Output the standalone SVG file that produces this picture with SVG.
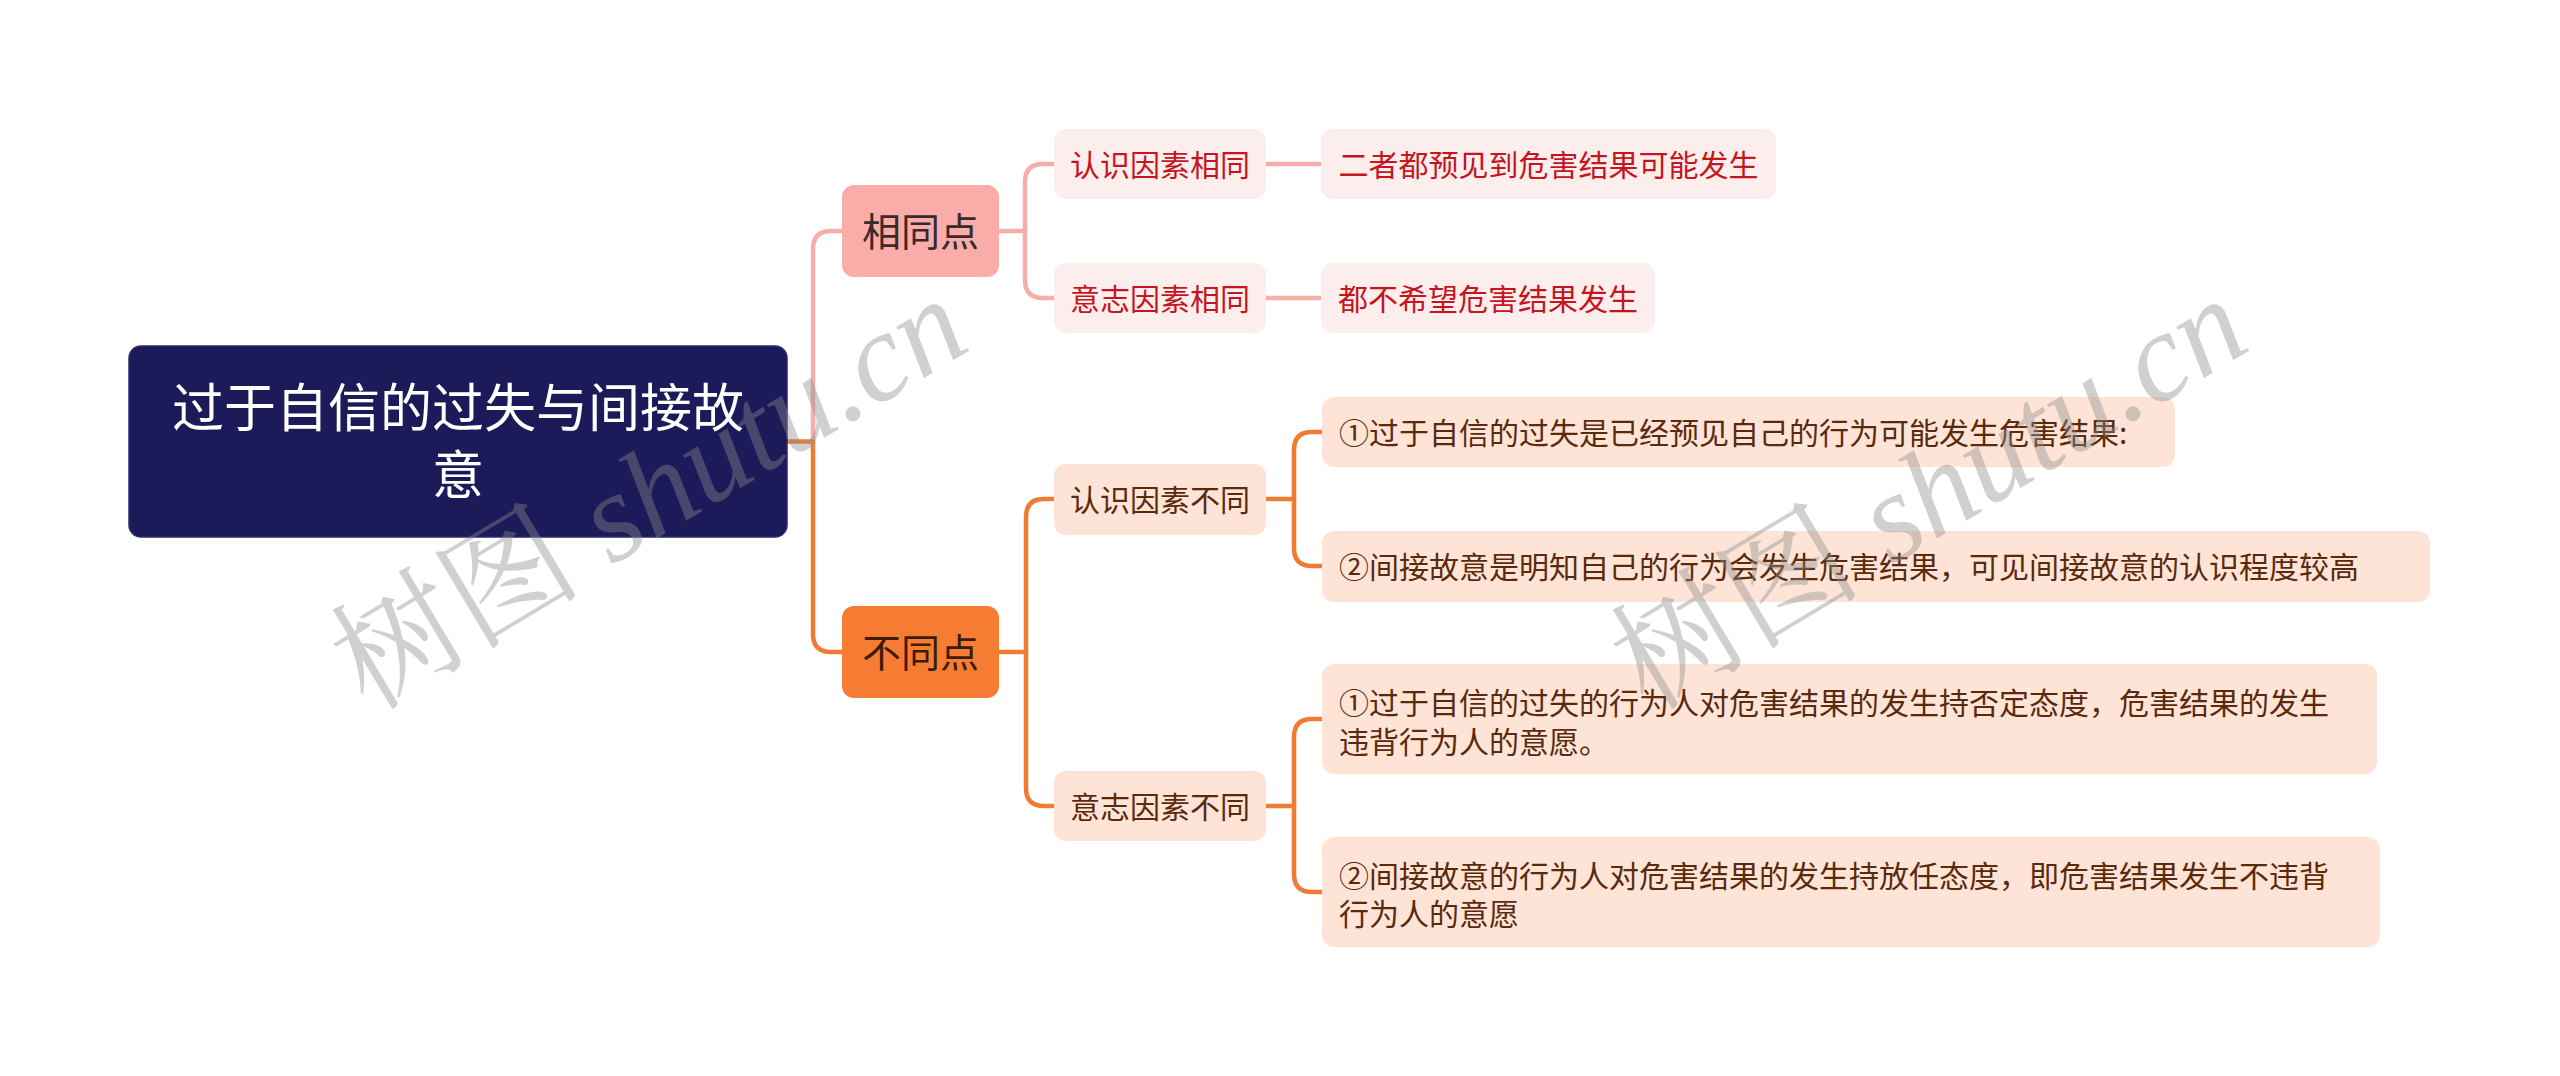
<svg xmlns="http://www.w3.org/2000/svg" width="2560" height="1076" viewBox="0 0 2560 1076">
<style>
text{font-family:"Noto Sans CJK SC","Noto Sans",sans-serif;}
.c{fill:none;stroke-width:4.5;stroke-linecap:round;stroke-linejoin:round;}
.cp{stroke:#f6aeaa;}
.co{stroke:#f07c34;}
.root{fill:#1c1a58;stroke:#2a2a70;stroke-width:1.5;}
.rt{fill:#ffffff;font-size:52px;text-anchor:middle;}
.l1p{fill:#f9aca8;}
.l1o{fill:#f77c33;}
.l1t{font-size:39px;text-anchor:middle;}
.np{fill:#fdeeee;}
.no{fill:#fde4d7;}
.tp{fill:#c4161c;font-size:30px;}
.to{fill:#5b2a0c;font-size:30px;}
.mid{text-anchor:middle;}
.wm{font-family:"Liberation Serif","Noto Serif CJK SC","Noto Sans CJK SC",serif;font-size:126px;fill:#8c8c8c;opacity:0.4;}
.it{font-style:italic;}
</style>
<g id="connectors">
<path class="c co" d="M787,441.5 H813"/>
<path class="c cp" d="M813,441.5 V249 Q813,231 831,231 H843"/>
<path class="c co" d="M813,441.5 V634 Q813,652 831,652 H843"/>
<path class="c cp" d="M999,231 H1025"/>
<path class="c cp" d="M1025,231 V182 Q1025,164 1043,164 H1054"/>
<path class="c cp" d="M1025,231 V280 Q1025,298 1043,298 H1054"/>
<path class="c cp" d="M1266,164 H1321"/>
<path class="c cp" d="M1266,298 H1321"/>
<path class="c co" d="M999,652 H1026"/>
<path class="c co" d="M1026,652 V517 Q1026,499 1044,499 H1054"/>
<path class="c co" d="M1026,652 V788 Q1026,806 1044,806 H1054"/>
<path class="c co" d="M1265,499 H1294"/>
<path class="c co" d="M1294,499 V450 Q1294,432 1312,432 H1322"/>
<path class="c co" d="M1294,499 V548 Q1294,566 1312,566 H1322"/>
<path class="c co" d="M1265,806 H1294"/>
<path class="c co" d="M1294,806 V737 Q1294,719 1312,719 H1322"/>
<path class="c co" d="M1294,806 V874 Q1294,892 1312,892 H1322"/>
</g>
<g id="root">
<rect class="root" x="129" y="346" width="658" height="191" rx="12"/>
<text class="rt" x="458" y="427">过于自信的过失与间接故</text>
<text class="rt" x="458" y="494">意</text>
</g>
<g id="n-same">
<rect class="l1p" x="842" y="185" width="157" height="92" rx="12"/>
<text class="l1t" x="920.5" y="246" fill="#3a2a2a">相同点</text>
</g>
<g id="n-diff">
<rect class="l1o" x="842" y="606" width="157" height="92" rx="12"/>
<text class="l1t" x="920.5" y="667" fill="#3d1c0a">不同点</text>
</g>
<g id="n-same-cog">
<rect class="np" x="1054" y="129" width="212" height="70" rx="12"/>
<text class="tp mid" x="1160" y="175.5">认识因素相同</text>
</g>
<g id="n-same-will">
<rect class="np" x="1054" y="263" width="212" height="70" rx="12"/>
<text class="tp mid" x="1160" y="309.5">意志因素相同</text>
</g>
<g id="n-same-cog-1">
<rect class="np" x="1321" y="129" width="455" height="70" rx="12"/>
<text class="tp mid" x="1548.5" y="175.5">二者都预见到危害结果可能发生</text>
</g>
<g id="n-same-will-1">
<rect class="np" x="1321" y="263" width="334" height="70" rx="12"/>
<text class="tp mid" x="1488" y="309.5">都不希望危害结果发生</text>
</g>
<g id="n-diff-cog">
<rect class="no" x="1054" y="464" width="212" height="71" rx="12"/>
<text class="to mid" x="1160" y="510.5">认识因素不同</text>
</g>
<g id="n-diff-will">
<rect class="no" x="1054" y="771" width="212" height="70" rx="12"/>
<text class="to mid" x="1160" y="817.5">意志因素不同</text>
</g>
<g id="n-diff-cog-1">
<rect class="no" x="1322" y="397" width="853" height="70" rx="12"/>
<text class="to" x="1339" y="443.5">①过于自信的过失是已经预见自己的行为可能发生危害结果:</text>
</g>
<g id="n-diff-cog-2">
<rect class="no" x="1322" y="531" width="1108" height="71" rx="12"/>
<text class="to" x="1339" y="577.5">②间接故意是明知自己的行为会发生危害结果，可见间接故意的认识程度较高</text>
</g>
<g id="n-diff-will-1">
<rect class="no" x="1322" y="664" width="1055" height="110" rx="12"/>
<text class="to" x="1339" y="714">①过于自信的过失的行为人对危害结果的发生持否定态度，危害结果的发生</text>
<text class="to" x="1339" y="752.5">违背行为人的意愿。</text>
</g>
<g id="n-diff-will-2">
<rect class="no" x="1322" y="837" width="1058" height="110" rx="12"/>
<text class="to" x="1339" y="886.5">②间接故意的行为人对危害结果的发生持放任态度，即危害结果发生不违背</text>
<text class="to" x="1339" y="925">行为人的意愿</text>
</g>
<g id="watermark">
<text class="wm" transform="translate(368,712) rotate(-31)">树图 <tspan class="it">shutu.cn</tspan></text>
<text class="wm" transform="translate(1648,712) rotate(-31)">树图 <tspan class="it">shutu.cn</tspan></text>
</g>
</svg>
